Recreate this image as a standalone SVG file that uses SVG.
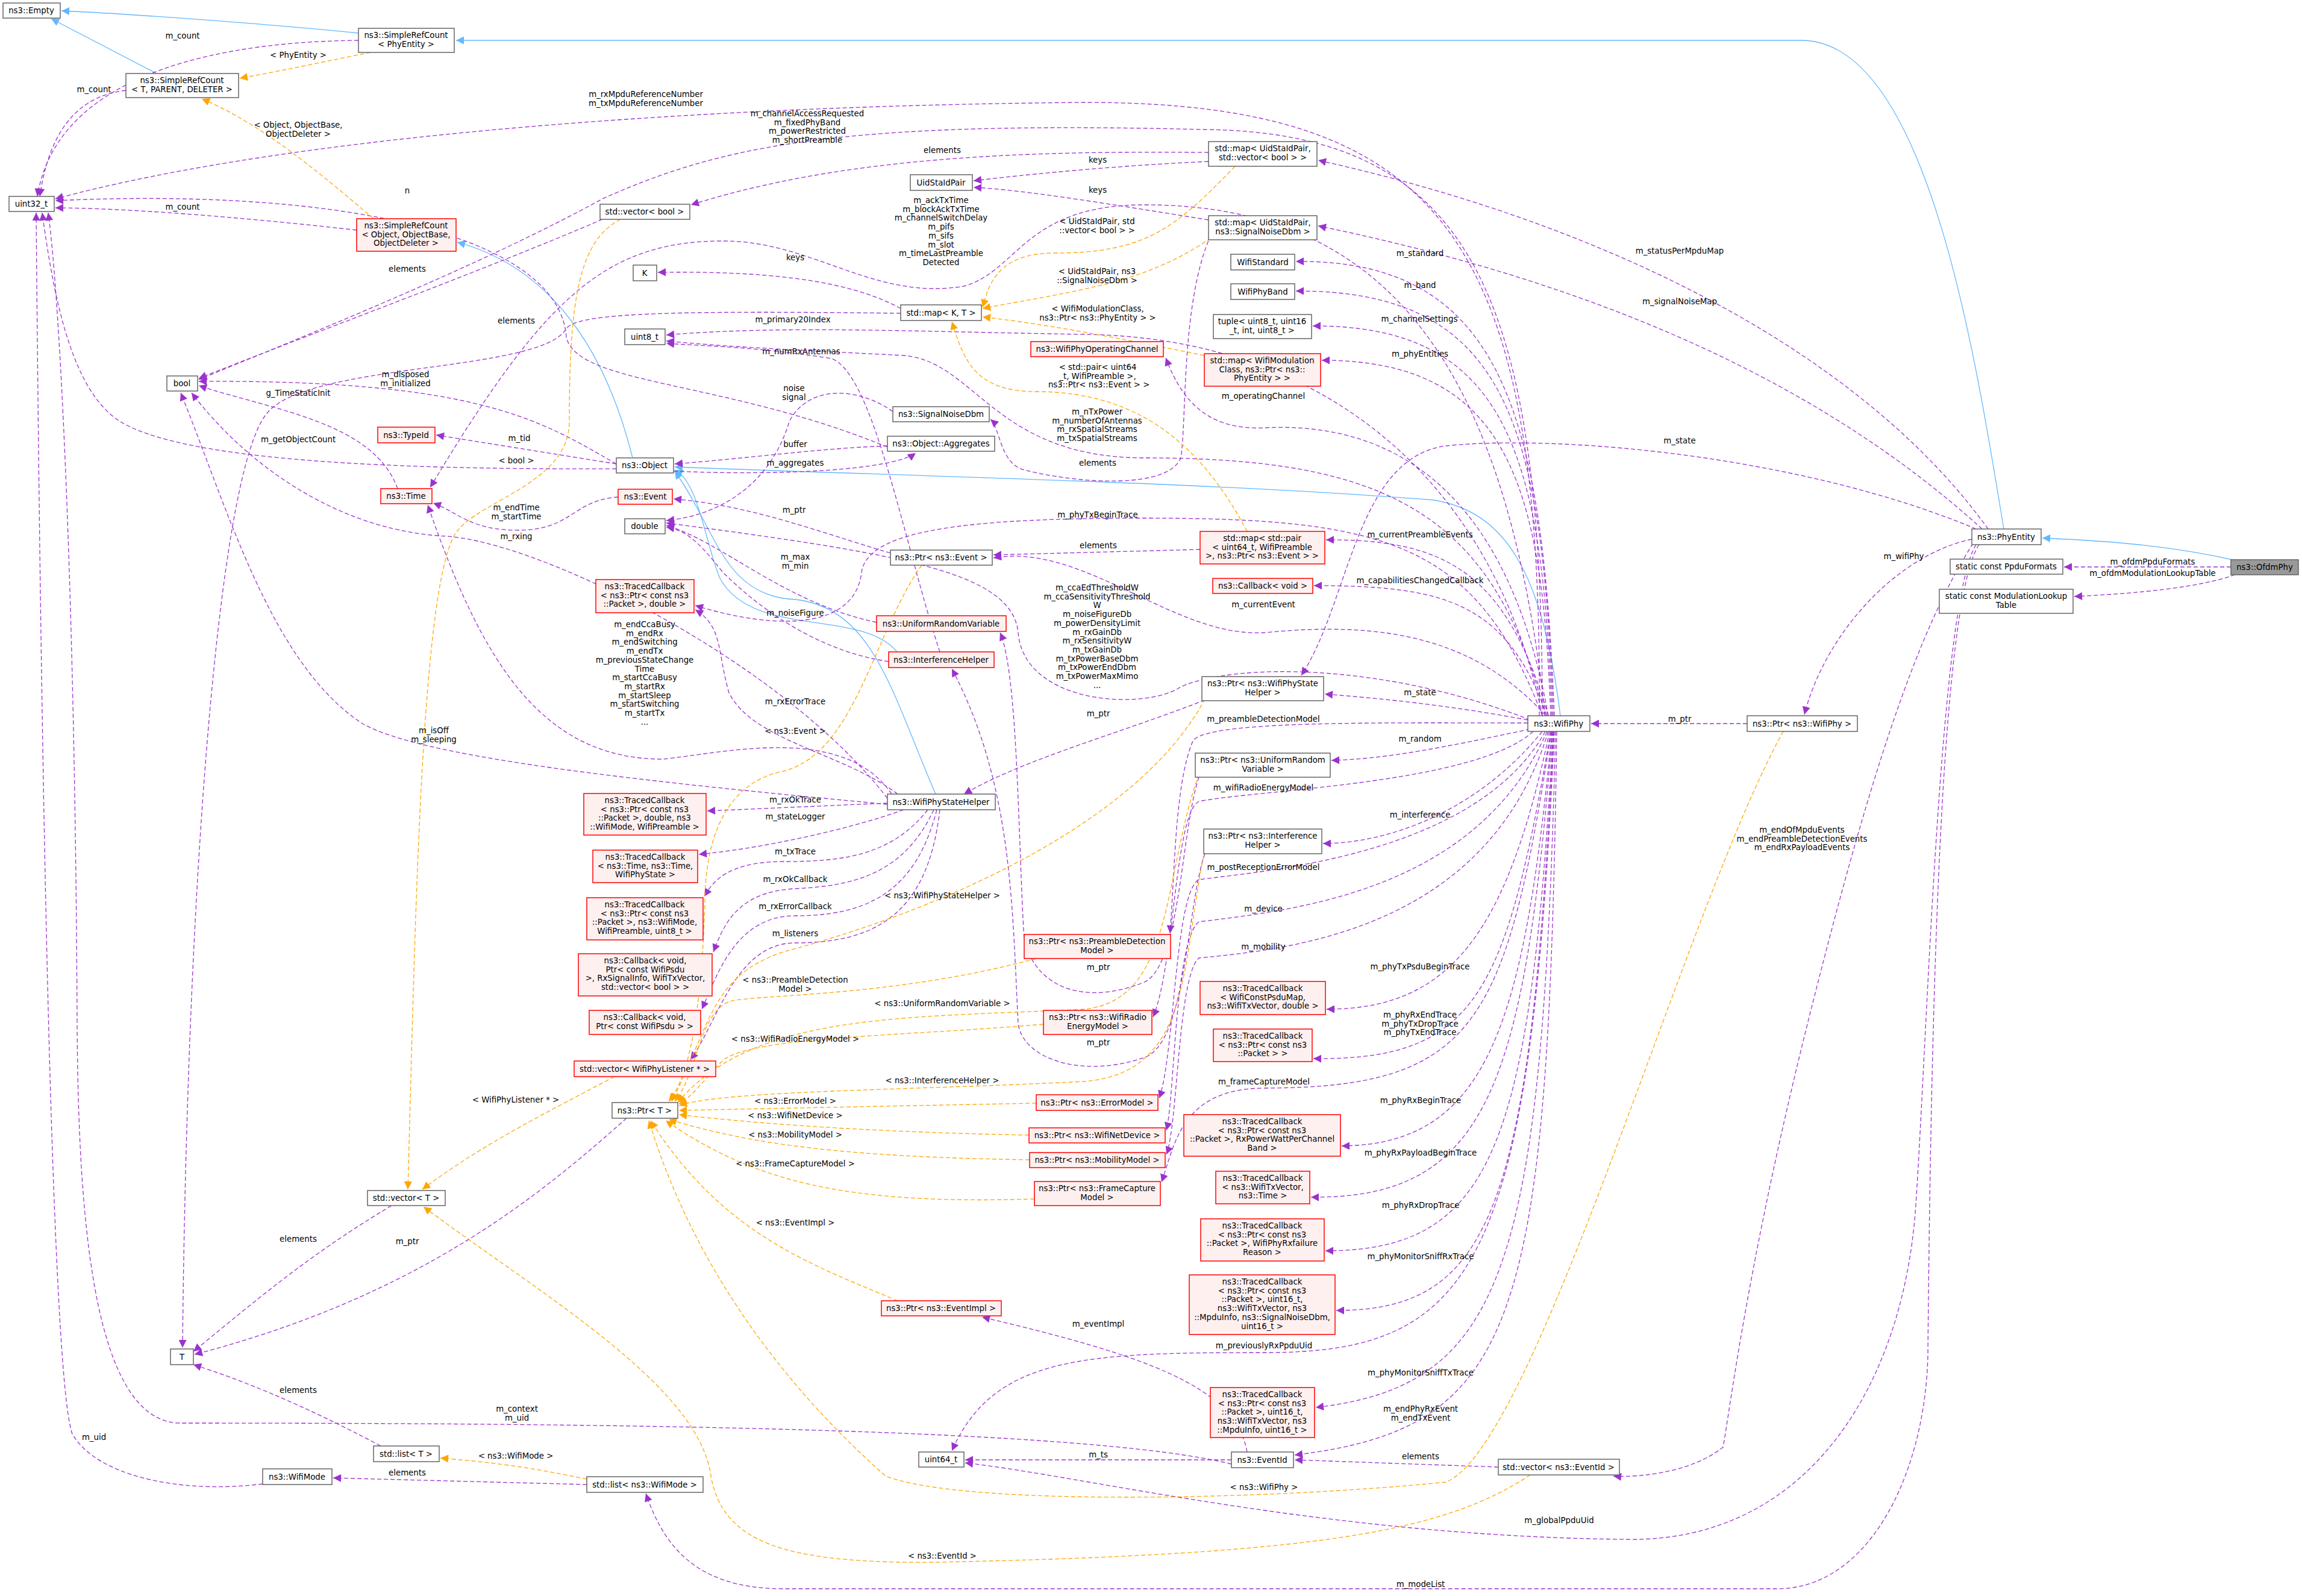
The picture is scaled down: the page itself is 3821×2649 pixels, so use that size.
<svg xmlns="http://www.w3.org/2000/svg" width="3821" height="2649" viewBox="0 0 3821 2649">
<defs>
<marker id="ap" viewBox="0 0 10 10" refX="10" refY="5" markerWidth="15" markerHeight="13" markerUnits="userSpaceOnUse" orient="auto"><path d="M0,0 L10,5 L0,10 z" fill="#9a32cd"/></marker>
<marker id="ao" viewBox="0 0 10 10" refX="10" refY="5" markerWidth="15" markerHeight="13" markerUnits="userSpaceOnUse" orient="auto"><path d="M0,0 L10,5 L0,10 z" fill="#ffa500"/></marker>
<marker id="ab" viewBox="0 0 10 10" refX="10" refY="5" markerWidth="15" markerHeight="13" markerUnits="userSpaceOnUse" orient="auto"><path d="M0,0 L10,5 L0,10 z" fill="#63b8ff"/></marker>
</defs>
<style>
text{font-family:"DejaVu Sans","Liberation Sans",sans-serif;font-size:13.3px;fill:#000;text-anchor:middle}
.n rect{fill:#fff;stroke:#666;stroke-width:1.5}
.r rect{fill:#fff0f0;stroke:#ff0000;stroke-width:1.5}
.g rect{fill:#999;stroke:#666;stroke-width:1.5}
#edges path{fill:none;stroke-width:1.3}
.p{stroke:#9a32cd;stroke-dasharray:7,4;marker-end:url(#ap)}
.o{stroke:#ffa500;stroke-dasharray:7,4;marker-end:url(#ao)}
.b{stroke:#63b8ff;marker-end:url(#ab)}
</style>
<rect width="3821" height="2649" fill="#fff"/>
<g id="edges">
<path class="b" d="M595,55 C450,40 200,22 102,18"/>
<path class="b" d="M260,122 L85,31"/>
<path class="b" d="M3326,878 C3280,600 3200,67 2990,67 L757,67"/>
<path class="b" d="M1050,760 C1000,560 900,440 759,402"/>
<path class="b" d="M3710,930 C3600,905 3500,898 3390,893"/>
<path class="b" d="M1489,1082 C1430,1010 1250,1060 1195,960 C1170,900 1160,800 1120,780"/>
<path class="b" d="M1553,1318 C1480,1150 1450,1010 1320,995 C1200,990 1190,880 1120,782"/>
<path class="b" d="M2590,1188 C2560,950 2500,850 2380,830 C2000,800 1500,790 1120,775"/>
<path class="p" d="M595,67 C300,70 90,150 62,326"/>
<path class="p" d="M209,150 C120,160 80,230 66,326"/>
<path class="p" d="M592,382 C400,360 200,345 92,345"/>
<path class="p" d="M1023,778 C600,780 300,760 200,700 C120,650 90,500 70,353"/>
<path class="p" d="M1473,742 C1200,630 960,640 940,560 C930,400 600,310 92,333"/>
<path class="p" d="M1000,364 C800,450 500,560 330,628"/>
<path class="p" d="M1495,520 C1100,515 960,520 940,545 C900,620 500,600 440,690 C360,800 310,1500 303,2237"/>
<path class="p" d="M2560,1188 C2560,500 2450,220 2000,215 C1400,200 1200,240 1000,330 C800,440 500,560 330,630"/>
<path class="p" d="M2555,1188 C2560,400 2400,170 1800,170 C1200,175 500,220 92,330"/>
<path class="p" d="M1023,770 C900,700 800,630 330,633"/>
<path class="p" d="M660,811 C620,700 450,680 330,640"/>
<path class="p" d="M1023,770 L724,722"/>
<path class="p" d="M1026,825 C950,830 950,880 860,880 C780,880 760,850 719,835"/>
<path class="p" d="M1473,1325 C1300,1100 900,900 740,890 C550,880 400,760 318,652"/>
<path class="p" d="M1473,1335 C1100,1300 700,1260 600,1200 C450,1100 380,850 300,652"/>
<path class="p" d="M1480,1318 C1400,1200 1200,1250 1100,1260 C900,1260 800,1100 710,838"/>
<path class="p" d="M1490,1318 C1400,1250 1250,1230 1210,1150 C1190,1080 1200,1040 1154,1012"/>
<path class="p" d="M1475,1098 C1350,1080 1250,1000 1200,950 C1160,900 1140,880 1106,875"/>
<path class="p" d="M1455,1033 C1300,1000 1200,900 1106,872"/>
<path class="p" d="M1478,918 C1350,880 1250,840 1118,828"/>
<path class="p" d="M2560,1188 C2450,900 2300,860 1900,860 C1600,860 1440,880 1430,950 C1420,1040 1300,1050 1154,1005"/>
<path class="p" d="M2540,1195 C2300,1100 2050,1100 1960,1140 C1900,1180 1700,1170 1690,1050 C1680,950 1500,920 1106,868"/>
<path class="p" d="M1473,1333 L1174,1346"/>
<path class="p" d="M1500,1344 C1400,1380 1250,1410 1160,1418"/>
<path class="p" d="M1540,1344 C1480,1420 1400,1430 1300,1430 C1200,1430 1180,1470 1169,1488"/>
<path class="p" d="M1550,1344 C1500,1450 1420,1470 1320,1475 C1220,1480 1200,1540 1184,1580"/>
<path class="p" d="M1555,1344 C1520,1480 1440,1520 1320,1520 C1220,1520 1190,1620 1165,1675"/>
<path class="p" d="M1560,1344 C1540,1520 1450,1565 1320,1565 C1220,1565 1190,1700 1146,1759"/>
<path class="p" d="M2000,1162 C1850,1220 1700,1260 1600,1318"/>
<path class="p" d="M2536,1195 C2400,1170 2300,1160 2199,1152"/>
<path class="p" d="M3280,878 C3000,760 2600,720 2400,740 C2250,760 2240,1000 2160,1121"/>
<path class="p" d="M3300,878 C3100,600 2700,380 2188,266"/>
<path class="p" d="M3290,878 C3050,660 2700,480 2188,375"/>
<path class="p" d="M3273,895 C3150,920 3030,1050 2995,1186"/>
<path class="p" d="M2900,1201 L2641,1201"/>
<path class="p" d="M3703,941 L3426,941"/>
<path class="p" d="M3710,954 C3650,975 3550,985 3443,990"/>
<path class="p" d="M2580,1188 C2560,700 2500,430 2151,434"/>
<path class="p" d="M2578,1188 C2560,700 2500,482 2151,483"/>
<path class="p" d="M2576,1188 C2560,750 2500,540 2179,541"/>
<path class="p" d="M2574,1188 C2560,800 2500,598 2194,598"/>
<path class="p" d="M2570,1188 C2500,800 2300,700 2100,710 C2000,715 1960,660 1935,594"/>
<path class="p" d="M2565,1188 C2480,850 2300,760 1900,760 C1650,760 1620,600 1500,590 C1300,580 1200,575 1106,566"/>
<path class="p" d="M2560,1188 C2480,800 2200,560 1800,555 C1500,550 1300,540 1106,556"/>
<path class="p" d="M1560,1082 C1500,900 1450,620 1380,595 C1250,575 1180,575 1106,570"/>
<path class="p" d="M1482,683 C1420,640 1340,640 1310,700 C1280,800 1200,855 1106,864"/>
<path class="p" d="M1473,740 C1350,745 1250,760 1120,770"/>
<path class="p" d="M1118,782 C1300,790 1480,780 1520,752"/>
<path class="p" d="M2010,390 C1960,500 1970,700 1960,760 C1940,810 1800,805 1700,780 C1660,770 1660,710 1644,696"/>
<path class="p" d="M2006,253 C1700,250 1400,260 1147,340"/>
<path class="p" d="M2006,268 C1850,275 1700,290 1616,300"/>
<path class="p" d="M2006,365 C1850,340 1700,315 1616,311"/>
<path class="p" d="M1495,512 C1400,460 1250,450 1092,452"/>
<path class="p" d="M2565,1188 C2500,600 2300,340 1900,340 C1700,340 1690,450 1600,475 C1450,500 1350,400 1200,400 C1000,400 900,500 714,809"/>
<path class="p" d="M2570,1188 C2500,950 2400,895 2201,896"/>
<path class="p" d="M2568,1188 C2500,1000 2400,972 2181,972"/>
<path class="p" d="M2566,1188 C2450,1060 2300,1030 2100,1050 C1950,1060 1800,900 1649,926"/>
<path class="p" d="M1992,912 L1649,921"/>
<path class="p" d="M2536,1200 C2300,1200 2000,1195 1980,1230 C1950,1300 1950,1450 1942,1549"/>
<path class="p" d="M2540,1210 C2400,1240 2300,1260 2210,1262"/>
<path class="p" d="M2545,1214 C2450,1300 2100,1310 1990,1330 C1950,1350 1950,1600 1914,1688"/>
<path class="p" d="M2560,1214 C2450,1350 2300,1400 2196,1400"/>
<path class="p" d="M2565,1214 C2450,1420 2100,1445 1990,1460 C1950,1480 1950,1750 1924,1823"/>
<path class="p" d="M2568,1214 C2450,1480 2150,1510 1990,1530 C1950,1560 1950,1820 1936,1876"/>
<path class="p" d="M2570,1214 C2470,1540 2150,1575 1990,1590 C1955,1620 1955,1870 1936,1916"/>
<path class="p" d="M2572,1214 C2500,1560 2400,1675 2202,1675"/>
<path class="p" d="M2574,1214 C2500,1650 2450,1760 2180,1757"/>
<path class="p" d="M2575,1214 C2500,1700 2450,1805 2100,1806 C1960,1806 1950,1900 1928,1962"/>
<path class="p" d="M2576,1214 C2530,1700 2470,1900 2227,1902"/>
<path class="p" d="M2577,1214 C2530,1800 2470,1990 2176,1987"/>
<path class="p" d="M2578,1214 C2540,1900 2480,2076 2200,2076"/>
<path class="p" d="M2579,1214 C2540,2000 2480,2175 2218,2175"/>
<path class="p" d="M2580,1214 C2540,2100 2450,2245 2100,2245 C1800,2245 1650,2250 1580,2408"/>
<path class="p" d="M2582,1214 C2560,2100 2500,2300 2184,2336"/>
<path class="p" d="M2584,1214 C2570,2200 2520,2370 2149,2415"/>
<path class="p" d="M2487,2435 L2149,2423"/>
<path class="p" d="M2070,2410 C2050,2300 1900,2250 1630,2186"/>
<path class="p" d="M2044,2423 L1602,2423"/>
<path class="p" d="M2044,2430 C1800,2370 1000,2362 300,2362 C150,2362 130,2000 128,1700 C125,1000 100,500 80,353"/>
<path class="p" d="M436,2463 C300,2480 160,2450 120,2380 C90,2300 70,1500 60,353"/>
<path class="p" d="M974,2464 L553,2453"/>
<path class="p" d="M632,2400 C500,2330 400,2290 321,2265"/>
<path class="p" d="M650,2001 C500,2090 400,2180 321,2243"/>
<path class="p" d="M1040,1856 C900,1980 700,2150 323,2248"/>
<path class="p" d="M3275,902 C3180,1050 3100,1300 3000,1700 C2900,2100 2870,2350 2860,2402 C2800,2450 2700,2452 2678,2450"/>
<path class="p" d="M3280,904 C3220,1000 3200,1700 3180,2000 C3160,2300 3000,2560 2700,2555 C2200,2550 1800,2450 1602,2428"/>
<path class="p" d="M3285,904 C3220,1000 3205,1700 3200,2250 C3195,2450 3100,2637 2950,2637 L1300,2637 C1150,2637 1100,2560 1072,2479"/>
<path class="p" d="M1990,1290 C1960,1380 1960,1600 1900,1630 C1800,1670 1720,1640 1700,1560 C1690,1400 1690,1120 1660,1050"/>
<path class="p" d="M2000,1417 C1970,1500 1970,1730 1900,1755 C1800,1790 1700,1760 1690,1700 C1680,1500 1680,1300 1580,1110"/>
<path class="o" d="M615,87 C550,100 480,115 398,130"/>
<path class="o" d="M620,363 C500,260 420,200 335,164"/>
<path class="o" d="M2050,276 C1950,380 1900,420 1750,420 C1650,420 1640,480 1631,510"/>
<path class="o" d="M2010,395 C1900,470 1800,480 1631,512"/>
<path class="o" d="M1999,590 C1850,560 1750,540 1631,526"/>
<path class="o" d="M2070,882 C2000,750 1900,650 1720,650 C1620,650 1600,600 1580,534"/>
<path class="o" d="M1030,364 C960,400 945,500 945,700 C945,800 800,830 760,880 C700,950 690,1500 677,1974"/>
<path class="o" d="M1020,1787 C900,1850 800,1900 701,1974"/>
<path class="o" d="M1530,938 C1450,1050 1420,1250 1300,1280 C1200,1300 1170,1400 1170,1500 C1165,1650 1150,1780 1110,1828"/>
<path class="o" d="M2000,1160 C1900,1350 1600,1500 1300,1580 C1180,1620 1180,1700 1115,1828"/>
<path class="o" d="M1720,1591 C1500,1650 1300,1650 1220,1660 C1160,1670 1160,1780 1120,1828"/>
<path class="o" d="M1990,1285 C1930,1450 1950,1660 1800,1675 C1500,1690 1250,1680 1125,1830"/>
<path class="o" d="M1732,1700 C1500,1720 1250,1720 1200,1760 C1170,1790 1150,1820 1127,1832"/>
<path class="o" d="M2000,1410 C1960,1600 1980,1780 1800,1795 C1500,1810 1200,1810 1127,1835"/>
<path class="o" d="M1720,1831 L1127,1843"/>
<path class="o" d="M1708,1884 C1500,1880 1300,1870 1127,1850"/>
<path class="o" d="M1709,1925 C1400,1920 1250,1900 1110,1858"/>
<path class="o" d="M1717,1990 C1400,2000 1250,1960 1105,1860"/>
<path class="o" d="M1490,2159 C1350,2100 1200,2050 1080,1860"/>
<path class="o" d="M2960,1214 C2800,1500 2550,2400 2400,2460 C2100,2490 1600,2500 1470,2450 C1300,2300 1150,2100 1077,1860"/>
<path class="o" d="M2540,2448 C2400,2540 2200,2580 1550,2593 C1300,2595 1200,2560 1180,2450 C1160,2300 900,2150 703,2003"/>
<path class="o" d="M974,2455 C900,2440 850,2430 731,2420"/>
</g>
<g id="labels">
<text x="303" y="64">m_count</text>
<text x="156" y="153">m_count</text>
<text x="303" y="348">m_count</text>
<text x="495" y="734">m_getObjectCount</text>
<text x="676" y="321">n</text>
<text x="676" y="451">elements</text>
<text x="857" y="537">elements</text>
<text x="1340" y="193">m_channelAccessRequested<tspan x="1340" dy="14.7">m_fixedPhyBand</tspan><tspan x="1340" dy="14.7">m_powerRestricted</tspan><tspan x="1340" dy="14.7">m_shortPreamble</tspan></text>
<text x="1072" y="161">m_rxMpduReferenceNumber<tspan x="1072" dy="14.7">m_txMpduReferenceNumber</tspan></text>
<text x="673" y="626">m_disposed<tspan x="673" dy="14.7">m_initialized</tspan></text>
<text x="495" y="657">g_TimeStaticInit</text>
<text x="862" y="732">m_tid</text>
<text x="857" y="847">m_endTime<tspan x="857" dy="14.7">m_startTime</tspan></text>
<text x="857" y="895">m_rxing</text>
<text x="720" y="1217">m_isOff<tspan x="720" dy="14.7">m_sleeping</tspan></text>
<text x="1070" y="1041">m_endCcaBusy<tspan x="1070" dy="14.7">m_endRx</tspan><tspan x="1070" dy="14.7">m_endSwitching</tspan><tspan x="1070" dy="14.7">m_endTx</tspan><tspan x="1070" dy="14.7">m_previousStateChange</tspan><tspan x="1070" dy="14.7">Time</tspan><tspan x="1070" dy="14.7">m_startCcaBusy</tspan><tspan x="1070" dy="14.7">m_startRx</tspan><tspan x="1070" dy="14.7">m_startSleep</tspan><tspan x="1070" dy="14.7">m_startSwitching</tspan><tspan x="1070" dy="14.7">m_startTx</tspan><tspan x="1070" dy="14.7">...</tspan></text>
<text x="1320" y="1169">m_rxErrorTrace</text>
<text x="1320" y="1022">m_noiseFigure</text>
<text x="1320" y="929">m_max<tspan x="1320" dy="14.7">m_min</tspan></text>
<text x="1318" y="851">m_ptr</text>
<text x="1822" y="859">m_phyTxBeginTrace</text>
<text x="1821" y="980">m_ccaEdThresholdW<tspan x="1821" dy="14.7">m_ccaSensitivityThreshold</tspan><tspan x="1821" dy="14.7">W</tspan><tspan x="1821" dy="14.7">m_noiseFigureDb</tspan><tspan x="1821" dy="14.7">m_powerDensityLimit</tspan><tspan x="1821" dy="14.7">m_rxGainDb</tspan><tspan x="1821" dy="14.7">m_rxSensitivityW</tspan><tspan x="1821" dy="14.7">m_txGainDb</tspan><tspan x="1821" dy="14.7">m_txPowerBaseDbm</tspan><tspan x="1821" dy="14.7">m_txPowerEndDbm</tspan><tspan x="1821" dy="14.7">m_txPowerMaxMimo</tspan><tspan x="1821" dy="14.7">...</tspan></text>
<text x="1320" y="1332">m_rxOkTrace</text>
<text x="1320" y="1360">m_stateLogger</text>
<text x="1320" y="1418">m_txTrace</text>
<text x="1320" y="1464">m_rxOkCallback</text>
<text x="1320" y="1509">m_rxErrorCallback</text>
<text x="1320" y="1554">m_listeners</text>
<text x="1823" y="1189">m_ptr</text>
<text x="2357" y="1154">m_state</text>
<text x="2788" y="736">m_state</text>
<text x="2788" y="421">m_statusPerMpduMap</text>
<text x="2788" y="505">m_signalNoiseMap</text>
<text x="3160" y="928">m_wifiPhy</text>
<text x="2788" y="1198">m_ptr</text>
<text x="3573" y="937">m_ofdmPpduFormats</text>
<text x="3573" y="956">m_ofdmModulationLookupTable</text>
<text x="2357" y="425">m_standard</text>
<text x="2357" y="478">m_band</text>
<text x="2356" y="534">m_channelSettings</text>
<text x="2357" y="592">m_phyEntities</text>
<text x="2097" y="662">m_operatingChannel</text>
<text x="1821" y="688">m_nTxPower<tspan x="1821" dy="14.7">m_numberOfAntennas</tspan><tspan x="1821" dy="14.7">m_rxSpatialStreams</tspan><tspan x="1821" dy="14.7">m_txSpatialStreams</tspan></text>
<text x="1316" y="535">m_primary20Index</text>
<text x="1330" y="588">m_numRxAntennas</text>
<text x="1318" y="649">noise<tspan x="1318" dy="14.7">signal</tspan></text>
<text x="1320" y="742">buffer</text>
<text x="1320" y="773">m_aggregates</text>
<text x="1822" y="773">elements</text>
<text x="1564" y="254">elements</text>
<text x="1822" y="270">keys</text>
<text x="1822" y="320">keys</text>
<text x="1320" y="432">keys</text>
<text x="1562" y="337">m_ackTxTime<tspan x="1562" dy="14.7">m_blockAckTxTime</tspan><tspan x="1562" dy="14.7">m_channelSwitchDelay</tspan><tspan x="1562" dy="14.7">m_pifs</tspan><tspan x="1562" dy="14.7">m_sifs</tspan><tspan x="1562" dy="14.7">m_slot</tspan><tspan x="1562" dy="14.7">m_timeLastPreamble</tspan><tspan x="1562" dy="14.7">Detected</tspan></text>
<text x="2357" y="892">m_currentPreambleEvents</text>
<text x="2357" y="968">m_capabilitiesChangedCallback</text>
<text x="2097" y="1008">m_currentEvent</text>
<text x="1823" y="910">elements</text>
<text x="2097" y="1198">m_preambleDetectionModel</text>
<text x="2357" y="1231">m_random</text>
<text x="2097" y="1312">m_wifiRadioEnergyModel</text>
<text x="2357" y="1357">m_interference</text>
<text x="2097" y="1444">m_postReceptionErrorModel</text>
<text x="2097" y="1513">m_device</text>
<text x="2097" y="1576">m_mobility</text>
<text x="2357" y="1609">m_phyTxPsduBeginTrace</text>
<text x="2357" y="1689">m_phyRxEndTrace<tspan x="2357" dy="14.7">m_phyTxDropTrace</tspan><tspan x="2357" dy="14.7">m_phyTxEndTrace</tspan></text>
<text x="2098" y="1800">m_frameCaptureModel</text>
<text x="2358" y="1831">m_phyRxBeginTrace</text>
<text x="2358" y="1918">m_phyRxPayloadBeginTrace</text>
<text x="2358" y="2005">m_phyRxDropTrace</text>
<text x="2358" y="2090">m_phyMonitorSniffRxTrace</text>
<text x="2098" y="2238">m_previouslyRxPpduUid</text>
<text x="2358" y="2283">m_phyMonitorSniffTxTrace</text>
<text x="2358" y="2343">m_endPhyRxEvent<tspan x="2358" dy="14.7">m_endTxEvent</tspan></text>
<text x="2358" y="2422">elements</text>
<text x="1823" y="2202">m_eventImpl</text>
<text x="1823" y="2419">m_ts</text>
<text x="858" y="2343">m_context<tspan x="858" dy="14.7">m_uid</tspan></text>
<text x="156" y="2390">m_uid</text>
<text x="676" y="2449">elements</text>
<text x="495" y="2312">elements</text>
<text x="495" y="2061">elements</text>
<text x="676" y="2065">m_ptr</text>
<text x="2991" y="1382">m_endOfMpduEvents<tspan x="2991" dy="14.7">m_endPreambleDetectionEvents</tspan><tspan x="2991" dy="14.7">m_endRxPayloadEvents</tspan></text>
<text x="2588" y="2528">m_globalPpduUid</text>
<text x="2358" y="2634">m_modeList</text>
<text x="1823" y="1610">m_ptr</text>
<text x="1823" y="1735">m_ptr</text>
<text x="495" y="96">&lt; PhyEntity &gt;</text>
<text x="495" y="212">&lt; Object, ObjectBase,<tspan x="495" dy="14.7">ObjectDeleter &gt;</tspan></text>
<text x="1821" y="372">&lt; UidStaIdPair, std<tspan x="1821" dy="14.7">::vector&lt; bool &gt; &gt;</tspan></text>
<text x="1821" y="455">&lt; UidStaIdPair, ns3<tspan x="1821" dy="14.7">::SignalNoiseDbm &gt;</tspan></text>
<text x="1822" y="517">&lt; WifiModulationClass,<tspan x="1822" dy="14.7">ns3::Ptr&lt; ns3::PhyEntity &gt; &gt;</tspan></text>
<text x="1822" y="614">&lt; std::pair&lt; uint64<tspan x="1822" dy="14.7">_t, WifiPreamble &gt;,</tspan><tspan x="1822" dy="14.7"> ns3::Ptr&lt; ns3::Event &gt; &gt;</tspan></text>
<text x="857" y="769">&lt; bool &gt;</text>
<text x="856" y="1830">&lt; WifiPhyListener * &gt;</text>
<text x="1320" y="1218">&lt; ns3::Event &gt;</text>
<text x="1564" y="1491">&lt; ns3::WifiPhyStateHelper &gt;</text>
<text x="1320" y="1631">&lt; ns3::PreambleDetection<tspan x="1320" dy="14.7">Model &gt;</tspan></text>
<text x="1564" y="1670">&lt; ns3::UniformRandomVariable &gt;</text>
<text x="1320" y="1729">&lt; ns3::WifiRadioEnergyModel &gt;</text>
<text x="1564" y="1798">&lt; ns3::InterferenceHelper &gt;</text>
<text x="1320" y="1832">&lt; ns3::ErrorModel &gt;</text>
<text x="1320" y="1856">&lt; ns3::WifiNetDevice &gt;</text>
<text x="1320" y="1888">&lt; ns3::MobilityModel &gt;</text>
<text x="1320" y="1936">&lt; ns3::FrameCaptureModel &gt;</text>
<text x="1320" y="2034">&lt; ns3::EventImpl &gt;</text>
<text x="2098" y="2473">&lt; ns3::WifiPhy &gt;</text>
<text x="1564" y="2587">&lt; ns3::EventId &gt;</text>
<text x="856" y="2421">&lt; ns3::WifiMode &gt;</text>
</g>
<g id="n1" class="n"><rect x="5" y="5" width="95" height="25"/><text x="52" y="22">ns3::Empty</text></g>
<g id="n2" class="n"><rect x="595" y="47" width="159" height="40"/><text x="674" y="63">ns3::SimpleRefCount<tspan x="674" dy="14.7">&lt; PhyEntity &gt;</tspan></text></g>
<g id="n3" class="n"><rect x="209" y="122" width="187" height="40"/><text x="302" y="138">ns3::SimpleRefCount<tspan x="302" dy="14.7">&lt; T, PARENT, DELETER &gt;</tspan></text></g>
<g id="n4" class="n"><rect x="15" y="326" width="75" height="25"/><text x="52" y="343">uint32_t</text></g>
<g id="n5" class="r"><rect x="592" y="363" width="165" height="54"/><text x="674" y="379">ns3::SimpleRefCount<tspan x="674" dy="14.7">&lt; Object, ObjectBase,</tspan><tspan x="674" dy="14.7">ObjectDeleter &gt;</tspan></text></g>
<g id="n6" class="n"><rect x="996" y="339" width="149" height="25"/><text x="1070" y="356">std::vector&lt; bool &gt;</text></g>
<g id="n7" class="n"><rect x="1051" y="440" width="39" height="26"/><text x="1070" y="458">K</text></g>
<g id="n8" class="n"><rect x="1037" y="546" width="67" height="26"/><text x="1070" y="564">uint8_t</text></g>
<g id="n9" class="n"><rect x="277" y="624" width="51" height="25"/><text x="302" y="641">bool</text></g>
<g id="n10" class="r"><rect x="627" y="709" width="95" height="26"/><text x="674" y="727">ns3::TypeId</text></g>
<g id="n11" class="n"><rect x="1023" y="760" width="95" height="25"/><text x="1070" y="777">ns3::Object</text></g>
<g id="n12" class="r"><rect x="632" y="811" width="85" height="25"/><text x="674" y="828">ns3::Time</text></g>
<g id="n13" class="r"><rect x="1026" y="812" width="90" height="25"/><text x="1071" y="829">ns3::Event</text></g>
<g id="n14" class="n"><rect x="1037" y="861" width="67" height="25"/><text x="1070" y="878">double</text></g>
<g id="n15" class="n"><rect x="2006" y="235" width="180" height="41"/><text x="2096" y="251">std::map&lt; UidStaIdPair,<tspan x="2096" dy="14.7">std::vector&lt; bool &gt; &gt;</tspan></text></g>
<g id="n16" class="n"><rect x="1511" y="290" width="103" height="26"/><text x="1562" y="308">UidStaIdPair</text></g>
<g id="n17" class="n"><rect x="2006" y="358" width="180" height="40"/><text x="2096" y="374">std::map&lt; UidStaIdPair,<tspan x="2096" dy="14.7">ns3::SignalNoiseDbm &gt;</tspan></text></g>
<g id="n18" class="n"><rect x="2043" y="422" width="106" height="26"/><text x="2096" y="440">WifiStandard</text></g>
<g id="n19" class="n"><rect x="2043" y="471" width="106" height="26"/><text x="2096" y="489">WifiPhyBand</text></g>
<g id="n20" class="n"><rect x="2014" y="522" width="163" height="40"/><text x="2095" y="538">tuple&lt; uint8_t, uint16<tspan x="2095" dy="14.7">_t, int, uint8_t &gt;</tspan></text></g>
<g id="n21" class="n"><rect x="1495" y="506" width="134" height="26"/><text x="1562" y="524">std::map&lt; K, T &gt;</text></g>
<g id="n22" class="r"><rect x="1711" y="567" width="220" height="25"/><text x="1821" y="584">ns3::WifiPhyOperatingChannel</text></g>
<g id="n23" class="r"><rect x="1999" y="587" width="193" height="54"/><text x="2095" y="603">std::map&lt; WifiModulation<tspan x="2095" dy="14.7">Class, ns3::Ptr&lt; ns3::</tspan><tspan x="2095" dy="14.7">PhyEntity &gt; &gt;</tspan></text></g>
<g id="n24" class="n"><rect x="1482" y="675" width="160" height="25"/><text x="1562" y="692">ns3::SignalNoiseDbm</text></g>
<g id="n25" class="n"><rect x="1473" y="724" width="178" height="25"/><text x="1562" y="741">ns3::Object::Aggregates</text></g>
<g id="n26" class="r"><rect x="1992" y="882" width="207" height="54"/><text x="2095" y="898">std::map&lt; std::pair<tspan x="2095" dy="14.7">&lt; uint64_t, WifiPreamble</tspan><tspan x="2095" dy="14.7">&gt;, ns3::Ptr&lt; ns3::Event &gt; &gt;</tspan></text></g>
<g id="n27" class="r"><rect x="2013" y="960" width="166" height="25"/><text x="2096" y="977">ns3::Callback&lt; void &gt;</text></g>
<g id="n28" class="n"><rect x="1478" y="913" width="169" height="25"/><text x="1562" y="930">ns3::Ptr&lt; ns3::Event &gt;</text></g>
<g id="n29" class="r"><rect x="989" y="962" width="163" height="55"/><text x="1070" y="978">ns3::TracedCallback<tspan x="1070" dy="14.7">&lt; ns3::Ptr&lt; const ns3</tspan><tspan x="1070" dy="14.7">::Packet &gt;, double &gt;</tspan></text></g>
<g id="n30" class="r"><rect x="1455" y="1022" width="215" height="26"/><text x="1562" y="1040">ns3::UniformRandomVariable</text></g>
<g id="n31" class="r"><rect x="1475" y="1082" width="175" height="26"/><text x="1562" y="1100">ns3::InterferenceHelper</text></g>
<g id="n32" class="n"><rect x="1995" y="1123" width="202" height="40"/><text x="2096" y="1139">ns3::Ptr&lt; ns3::WifiPhyState<tspan x="2096" dy="14.7">Helper &gt;</tspan></text></g>
<g id="n33" class="n"><rect x="2536" y="1188" width="103" height="26"/><text x="2587" y="1206">ns3::WifiPhy</text></g>
<g id="n34" class="n"><rect x="2900" y="1188" width="183" height="26"/><text x="2991" y="1206">ns3::Ptr&lt; ns3::WifiPhy &gt;</text></g>
<g id="n35" class="n"><rect x="3273" y="878" width="115" height="26"/><text x="3330" y="896">ns3::PhyEntity</text></g>
<g id="n36" class="n"><rect x="3237" y="928" width="187" height="25"/><text x="3330" y="945">static const PpduFormats</text></g>
<g id="n37" class="n"><rect x="3219" y="978" width="222" height="40"/><text x="3330" y="994">static const ModulationLookup<tspan x="3330" dy="14.7">Table</tspan></text></g>
<g id="n38" class="g"><rect x="3703" y="929" width="112" height="25"/><text x="3759" y="946">ns3::OfdmPhy</text></g>
<g id="n39" class="n"><rect x="1984" y="1250" width="224" height="40"/><text x="2096" y="1266">ns3::Ptr&lt; ns3::UniformRandom<tspan x="2096" dy="14.7">Variable &gt;</tspan></text></g>
<g id="n40" class="n"><rect x="1473" y="1318" width="179" height="26"/><text x="1562" y="1336">ns3::WifiPhyStateHelper</text></g>
<g id="n41" class="r"><rect x="969" y="1317" width="203" height="69"/><text x="1070" y="1333">ns3::TracedCallback<tspan x="1070" dy="14.7">&lt; ns3::Ptr&lt; const ns3</tspan><tspan x="1070" dy="14.7">::Packet &gt;, double, ns3</tspan><tspan x="1070" dy="14.7">::WifiMode, WifiPreamble &gt;</tspan></text></g>
<g id="n42" class="n"><rect x="1998" y="1376" width="196" height="41"/><text x="2096" y="1392">ns3::Ptr&lt; ns3::Interference<tspan x="2096" dy="14.7">Helper &gt;</tspan></text></g>
<g id="n43" class="r"><rect x="984" y="1411" width="174" height="54"/><text x="1071" y="1427">ns3::TracedCallback<tspan x="1071" dy="14.7">&lt; ns3::Time, ns3::Time,</tspan><tspan x="1071" dy="14.7">WifiPhyState &gt;</tspan></text></g>
<g id="n44" class="r"><rect x="974" y="1490" width="193" height="70"/><text x="1070" y="1506">ns3::TracedCallback<tspan x="1070" dy="14.7">&lt; ns3::Ptr&lt; const ns3</tspan><tspan x="1070" dy="14.7">::Packet &gt;, ns3::WifiMode,</tspan><tspan x="1070" dy="14.7">WifiPreamble, uint8_t &gt;</tspan></text></g>
<g id="n45" class="r"><rect x="1700" y="1551" width="243" height="40"/><text x="1821" y="1567">ns3::Ptr&lt; ns3::PreambleDetection<tspan x="1821" dy="14.7">Model &gt;</tspan></text></g>
<g id="n46" class="r"><rect x="960" y="1583" width="222" height="70"/><text x="1071" y="1599">ns3::Callback&lt; void,<tspan x="1071" dy="14.7">Ptr&lt; const WifiPsdu</tspan><tspan x="1071" dy="14.7">&gt;, RxSignalInfo, WifiTxVector,</tspan><tspan x="1071" dy="14.7">std::vector&lt; bool &gt; &gt;</tspan></text></g>
<g id="n47" class="r"><rect x="1992" y="1629" width="208" height="55"/><text x="2096" y="1645">ns3::TracedCallback<tspan x="2096" dy="14.7">&lt; WifiConstPsduMap,</tspan><tspan x="2096" dy="14.7">ns3::WifiTxVector, double &gt;</tspan></text></g>
<g id="n48" class="r"><rect x="978" y="1677" width="185" height="40"/><text x="1070" y="1693">ns3::Callback&lt; void,<tspan x="1070" dy="14.7">Ptr&lt; const WifiPsdu &gt; &gt;</tspan></text></g>
<g id="n49" class="r"><rect x="1732" y="1677" width="180" height="40"/><text x="1822" y="1693">ns3::Ptr&lt; ns3::WifiRadio<tspan x="1822" dy="14.7">EnergyModel &gt;</tspan></text></g>
<g id="n50" class="r"><rect x="2014" y="1708" width="164" height="54"/><text x="2096" y="1724">ns3::TracedCallback<tspan x="2096" dy="14.7">&lt; ns3::Ptr&lt; const ns3</tspan><tspan x="2096" dy="14.7">::Packet &gt; &gt;</tspan></text></g>
<g id="n51" class="r"><rect x="953" y="1761" width="235" height="26"/><text x="1070" y="1779">std::vector&lt; WifiPhyListener * &gt;</text></g>
<g id="n52" class="r"><rect x="1720" y="1817" width="202" height="26"/><text x="1821" y="1835">ns3::Ptr&lt; ns3::ErrorModel &gt;</text></g>
<g id="n53" class="n"><rect x="1016" y="1830" width="109" height="26"/><text x="1070" y="1848">ns3::Ptr&lt; T &gt;</text></g>
<g id="n54" class="r"><rect x="1965" y="1850" width="260" height="69"/><text x="2095" y="1866">ns3::TracedCallback<tspan x="2095" dy="14.7">&lt; ns3::Ptr&lt; const ns3</tspan><tspan x="2095" dy="14.7">::Packet &gt;, RxPowerWattPerChannel</tspan><tspan x="2095" dy="14.7">Band &gt;</tspan></text></g>
<g id="n55" class="r"><rect x="1708" y="1872" width="226" height="25"/><text x="1821" y="1889">ns3::Ptr&lt; ns3::WifiNetDevice &gt;</text></g>
<g id="n56" class="r"><rect x="1709" y="1913" width="225" height="25"/><text x="1821" y="1930">ns3::Ptr&lt; ns3::MobilityModel &gt;</text></g>
<g id="n57" class="r"><rect x="2018" y="1944" width="156" height="54"/><text x="2096" y="1960">ns3::TracedCallback<tspan x="2096" dy="14.7">&lt; ns3::WifiTxVector,</tspan><tspan x="2096" dy="14.7">ns3::Time &gt;</tspan></text></g>
<g id="n58" class="r"><rect x="1717" y="1961" width="209" height="40"/><text x="1821" y="1977">ns3::Ptr&lt; ns3::FrameCapture<tspan x="1821" dy="14.7">Model &gt;</tspan></text></g>
<g id="n59" class="n"><rect x="610" y="1976" width="129" height="25"/><text x="674" y="1993">std::vector&lt; T &gt;</text></g>
<g id="n60" class="r"><rect x="1993" y="2023" width="205" height="70"/><text x="2095" y="2039">ns3::TracedCallback<tspan x="2095" dy="14.7">&lt; ns3::Ptr&lt; const ns3</tspan><tspan x="2095" dy="14.7">::Packet &gt;, WifiPhyRxfailure</tspan><tspan x="2095" dy="14.7">Reason &gt;</tspan></text></g>
<g id="n61" class="r"><rect x="1974" y="2116" width="242" height="99"/><text x="2095" y="2132">ns3::TracedCallback<tspan x="2095" dy="14.7">&lt; ns3::Ptr&lt; const ns3</tspan><tspan x="2095" dy="14.7">::Packet &gt;, uint16_t,</tspan><tspan x="2095" dy="14.7">ns3::WifiTxVector, ns3</tspan><tspan x="2095" dy="14.7">::MpduInfo, ns3::SignalNoiseDbm,</tspan><tspan x="2095" dy="14.7">uint16_t &gt;</tspan></text></g>
<g id="n62" class="r"><rect x="1463" y="2159" width="199" height="25"/><text x="1562" y="2176">ns3::Ptr&lt; ns3::EventImpl &gt;</text></g>
<g id="n63" class="n"><rect x="283" y="2239" width="38" height="26"/><text x="302" y="2257">T</text></g>
<g id="n64" class="r"><rect x="2009" y="2303" width="173" height="83"/><text x="2095" y="2319">ns3::TracedCallback<tspan x="2095" dy="14.7">&lt; ns3::Ptr&lt; const ns3</tspan><tspan x="2095" dy="14.7">::Packet &gt;, uint16_t,</tspan><tspan x="2095" dy="14.7">ns3::WifiTxVector, ns3</tspan><tspan x="2095" dy="14.7">::MpduInfo, uint16_t &gt;</tspan></text></g>
<g id="n65" class="n"><rect x="620" y="2400" width="109" height="26"/><text x="674" y="2418">std::list&lt; T &gt;</text></g>
<g id="n66" class="n"><rect x="1525" y="2410" width="75" height="25"/><text x="1562" y="2427">uint64_t</text></g>
<g id="n67" class="n"><rect x="2044" y="2410" width="103" height="26"/><text x="2095" y="2428">ns3::EventId</text></g>
<g id="n68" class="n"><rect x="2487" y="2422" width="201" height="26"/><text x="2587" y="2440">std::vector&lt; ns3::EventId &gt;</text></g>
<g id="n69" class="n"><rect x="436" y="2438" width="115" height="26"/><text x="493" y="2456">ns3::WifiMode</text></g>
<g id="n70" class="n"><rect x="974" y="2451" width="193" height="26"/><text x="1070" y="2469">std::list&lt; ns3::WifiMode &gt;</text></g>
</svg>
